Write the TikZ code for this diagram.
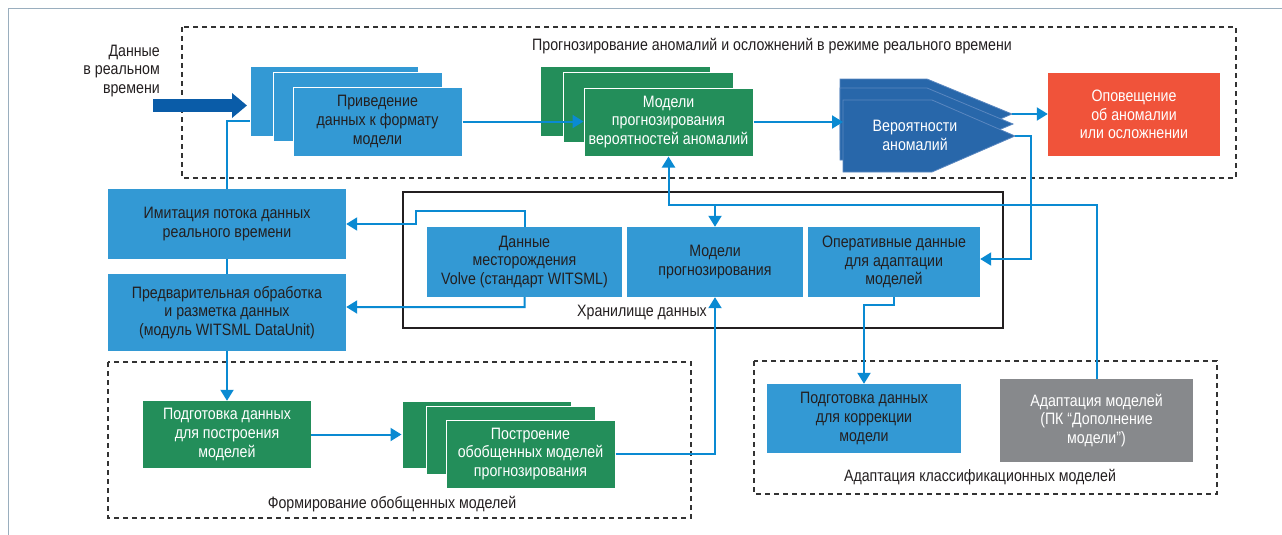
\documentclass[tikz,border=0pt]{standalone}
\usepackage{fontspec}
\setmainfont{Liberation Sans}[FakeStretch=0.86]
\usetikzlibrary{arrows.meta}
\definecolor{lblue}{HTML}{3399D4}
\definecolor{grn}{HTML}{238E5A}
\definecolor{dblue}{HTML}{2867AA}
\definecolor{pedge}{HTML}{5A87C0}
\definecolor{redc}{HTML}{F0533A}
\definecolor{grayc}{HTML}{87898C}
\definecolor{cblue}{HTML}{0A8AD2}
\definecolor{bigblue}{HTML}{0A5CA8}
\definecolor{txtdark}{HTML}{231F20}
\definecolor{dashc}{HTML}{333333}
\definecolor{framec}{HTML}{9AAEBE}
\newcommand{\bxfont}{\fontsize{16.5}{18.8}\selectfont}
\newcommand{\bx}[7]{\node[#2, minimum width=#5-#3, minimum height=#6-#4] (#1) at ({(#3+#5)/2},{(#4+#6)/2}) {#7};}
\begin{document}
\begin{tikzpicture}[x=1pt,y=-1pt,
  box/.style={inner sep=0pt, align=center, font=\bxfont, text=txtdark},
  lbox/.style={box, fill=lblue},
  lback/.style={lbox, draw=white, line width=1pt},
  gbox/.style={box, fill=grn, text=white},
  gback/.style={gbox, draw=white, line width=1pt},
  rbox/.style={box, fill=redc, text=white},
  grbox/.style={box, fill=grayc, text=white},
  lab/.style={inner sep=0pt, align=center, font=\bxfont, text=txtdark},
  grp/.style={draw=dashc, line width=1.5pt, dash pattern=on 5pt off 4pt},
  store/.style={draw=txtdark, line width=2.5pt},
  conn/.style={draw=cblue, line width=2pt},
  arr/.style={conn, -{Triangle[length=11pt,width=13pt]}},
  pent/.style={fill=dblue, draw=pedge, line width=0.8pt},
]
\useasboundingbox (0,0) rectangle (1282,535);
% frame
\draw[framec, line width=1pt] (1282,9) -- (8,9) -- (8,535);
% group boxes
\draw[grp] (182,27) rectangle (1236,178);
\draw[grp] (108,362) rectangle (691,518);
\draw[grp] (754,361) rectangle (1217,494);
\draw[store] (403,192) rectangle (1003,328);
% group labels
\node[lab] (t1) at (772,46) {Прогнозирование аномалий и осложнений в режиме реального времени};
\node[lab] (t2) at (642,313) {Хранилище данных};
\node[lab] (t3) at (392,504) {Формирование обобщенных моделей};
\node[lab] (t4) at (980,477) {Адаптация классификационных моделей};
\node[lab, anchor=east, align=right] (rtt) at (160,71) {Данные\\в реальном\\времени};
% stacked: Приведение
\bx{pr1}{lback}{250}{67}{418}{136}{}
\bx{pr2}{lback}{273}{73}{442}{141}{}
\bx{pr3}{lback}{293}{87}{462}{156}{Приведение\\данных к формату\\модели}
% stacked green
\bx{gr1}{gback}{540}{67}{710}{136}{}
\bx{gr2}{gback}{563}{73}{733}{142}{}
\bx{gr3}{gback}{584}{88}{753}{156}{Модели\\прогнозирования\\вероятностей аномалий}
% pentagons
\fill[pent] (840,79) -- (927,79) -- (1012,114) -- (927,150) -- (840,150) -- cycle;
\fill[pent] (840,88) -- (927,88) -- (1013,124) -- (927,160) -- (840,160) -- cycle;
\fill[pent] (843,100) -- (932,100) -- (1015,136) -- (932,172) -- (843,172) -- cycle;
\node[lab, text=white] (pv) at (915,135.5) {Вероятности\\аномалий};
\coordinate (pin) at (843,122);
\coordinate (ptipA) at (1012,114);
\coordinate (ptipC) at (1015,136);
% red
\bx{red}{rbox}{1048}{73}{1220}{156}{Оповещение\\об аномалии\\или осложнении}
% left boxes
\bx{imit}{lbox}{108}{189}{346}{259}{Имитация потока данных\\реального времени}
\bx{pred}{lbox}{108}{274}{346}{351}{Предварительная обработка\\и разметка данных\\(модуль WITSML DataUnit)}
% storage boxes
\bx{dm}{lbox}{427}{227}{622}{297}{Данные\\месторождения\\Volve (стандарт WITSML)}
\bx{mp}{lbox}{627}{227}{803}{297}{Модели\\прогнозирования}
\bx{oper}{lbox}{808}{227}{980}{297}{Оперативные данные\\для адаптации\\моделей}
% bottom left
\bx{pgot}{gbox}{143}{401}{311}{468}{Подготовка данных\\для построения\\моделей}
\bx{pb1}{gback}{402}{401}{571}{468}{}
\bx{pb2}{gback}{426}{406}{595}{474}{}
\bx{pb3}{gback}{446}{420}{615}{488}{Построение\\обобщенных моделей\\прогнозирования}
% bottom right
\bx{pk}{lbox}{767}{384}{961}{453}{Подготовка данных\\для коррекции\\модели}
\bx{gray}{grbox}{1000}{379}{1193}{462}{Адаптация моделей\\(ПК “Дополнение\\модели”)}
% big input arrow
\coordinate (rtin) at (153,105.5);
\draw[bigblue, line width=13pt, -{Triangle[length=15pt,width=24pt]}] (rtin) -- (247,105.5);
% connectors
\draw[conn] (pr1.west |- 0,121) -| (imit.north);
\draw[conn] (imit.south) -- (pred.north);
\draw[arr] (pred.south) -- (pgot.north);
\draw[arr] (pr3.east) -- (gr3.west |- pr3.east);
\draw[arr] (gr3.east |- pin) -- (pin);
\draw[arr] (ptipA) -- (red.west |- ptipA);
\draw[arr] (ptipC) -- (1031,136) |- (oper.east |- 0,259);
\draw[arr] (dm.north) -- ++(0,-16) -| (416,224) -- (imit.east);
\draw[arr] (dm.south) -- ++(0,10) -- (pred.east |- 0,307);
\draw[arr] (gray.north) |- (gr3.south |- 0,205) -- (gr3.south);
\draw[arr] (mp.north |- 0,205) -- (mp.north);
\draw[arr] (pb3.east) -| (mp.south);
\draw[arr] (pgot.east) -- (pb1.west |- pgot.east);
\draw[arr] (oper.south) -- ++(0,8) -| (pk.north);
\end{tikzpicture}
\end{document}
